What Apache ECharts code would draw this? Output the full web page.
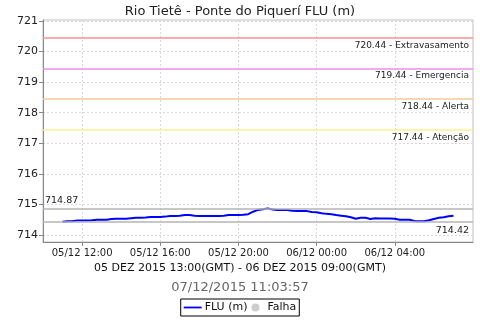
<!DOCTYPE html>
<html><head><meta charset="utf-8">
<script src="https://cdn.jsdelivr.net/npm/echarts@6/dist/echarts.min.js"></script>
<style>html,body{margin:0;padding:0;background:#fff}#c{width:480px;height:320px}</style>
</head><body><div id="c"></div>
<script>
// hours since 05/12 00:00 (local time), 15-minute steps from 11:00 to 07:00 next day
const startHour = 11;
const stepHours = 0.25;
const fluValues = [
714.43,714.45,714.45,714.47,714.47,714.47,714.48,714.50,714.50,714.50,
714.52,714.53,714.53,714.53,714.55,714.56,714.56,714.57,714.59,714.59,
714.59,714.60,714.62,714.62,714.63,714.65,714.65,714.63,714.62,714.62,
714.62,714.62,714.62,714.63,714.65,714.65,714.65,714.66,714.68,714.76,
714.82,714.84,714.87,714.83,714.82,714.82,714.82,714.79,714.78,714.78,
714.78,714.75,714.74,714.71,714.69,714.68,714.65,714.63,714.61,714.58,
714.53,714.56,714.56,714.52,714.55,714.54,714.54,714.54,714.53,714.50,
714.50,714.50,714.46,714.45,714.45,714.48,714.52,714.56,714.58,714.61,
714.63
];
const xTicks = [12,16,20,24,28];
const xTickLabels = ['05/12 12:00','05/12 16:00','05/12 20:00','06/12 00:00','06/12 04:00'];
const yTicks = [714,715,716,717,718,719,720,721];
const thresholdValues = [720.44,719.44,718.44,717.44];
const thresholdNames = ['Extravasamento','Emergencia','Alerta','Atenção'];
const thresholdColors = ['#ff8f8f','#ee8fee','#f5c898','#fff08a'];
const maxValue = 714.87, minValue = 714.42;
const titleText = 'Rio Tietê - Ponte do Piquerí FLU (m)';
const periodText = '05 DEZ 2015 13:00(GMT) - 06 DEZ 2015 09:00(GMT)';
const stampText = '07/12/2015 11:03:57';

const data = fluValues.map((v,i)=>[startHour + i*stepHours, v]);
const font = 'DejaVu Sans';

const markData = thresholdValues.map((v,i)=>({
  yAxis: v,
  lineStyle:{color:thresholdColors[i], width:1.5, type:'solid'},
  label:{show:true, position:'insideEndBottom', formatter: v.toFixed(2)+' - '+thresholdNames[i], color:'#222', fontSize:9, fontFamily:font, distance:[4,3]}
}));
markData.push({yAxis:maxValue, lineStyle:{color:'#b4b4b4',width:1.5,type:'solid'},
  label:{show:true, position:'insideStartTop', formatter:maxValue.toFixed(2), color:'#222', fontSize:9.5, fontFamily:font, distance:[2,3]}});
markData.push({yAxis:minValue, lineStyle:{color:'#b4b4b4',width:1.5,type:'solid'},
  label:{show:true, position:'insideEndBottom', formatter:minValue.toFixed(2), color:'#222', fontSize:9.5, fontFamily:font, distance:[4,3]}});

const chart = echarts.init(document.getElementById('c'), null, {renderer:'canvas'});
chart.setOption({
  animation:false,
  backgroundColor:'#fff',
  title:{text:titleText, left:'center', top:0, textStyle:{fontSize:13, fontWeight:'normal', color:'#222', fontFamily:font}},
  grid:{left:43, right:7, top:20, bottom:78, show:true, borderColor:'#c0c0c0', borderWidth:1},
  xAxis:{type:'value', min:10, max:32,
    axisLine:{show:true, onZero:false, lineStyle:{color:'#888'}},
    axisTick:{show:true, customValues:xTicks, length:4, lineStyle:{color:'#888'}},
    axisLabel:{customValues:xTicks, formatter:(v)=>xTickLabels[xTicks.indexOf(v)], fontSize:10, color:'#222', fontFamily:font, margin:6},
    splitLine:{show:true, lineStyle:{color:'#d8d8d8', type:[2,2]}}},
  yAxis:{type:'value', min:713.77, max:721.03,
    axisLine:{show:true, lineStyle:{color:'#888'}},
    axisTick:{show:true, customValues:yTicks, length:4, lineStyle:{color:'#888'}},
    axisLabel:{customValues:yTicks, fontSize:11, color:'#222', fontFamily:font, margin:5},
    splitLine:{show:true, lineStyle:{color:'#d8d8d8', type:[2,2]}}},
  legend:{top:299, left:'center', orient:'horizontal', itemWidth:18, itemHeight:8, itemGap:4, borderColor:'#000', borderWidth:1, padding:[3,3,3,3], borderRadius:0,
    textStyle:{fontSize:11, color:'#111', fontFamily:font, padding:[0,0,0,-2]},
    data:[{name:'FLU (m)', icon:'path://M0,0L20,0L20,2L0,2Z', itemStyle:{color:'#0000ff'}}, {name:'Falha', icon:'circle', itemStyle:{color:'#c0c0c0'}}]},
  graphic:[
    {type:'text', left:'center', top:263, style:{text:periodText, font:'11px "DejaVu Sans"', fill:'#111'}},
    {type:'text', left:'center', top:281, style:{text:stampText, font:'13px "DejaVu Sans"', fill:'#666'}}
  ],
  series:[
    {name:'FLU (m)', type:'line', data:data, showSymbol:false, lineStyle:{color:'#0000ff', width:2}, itemStyle:{color:'#0000ff'},
     markLine:{silent:true, symbol:['none','none'], data:markData, animation:false}},
    {name:'Falha', type:'scatter', data:[], itemStyle:{color:'#c0c0c0'}}
  ]
});
</script></body></html>
